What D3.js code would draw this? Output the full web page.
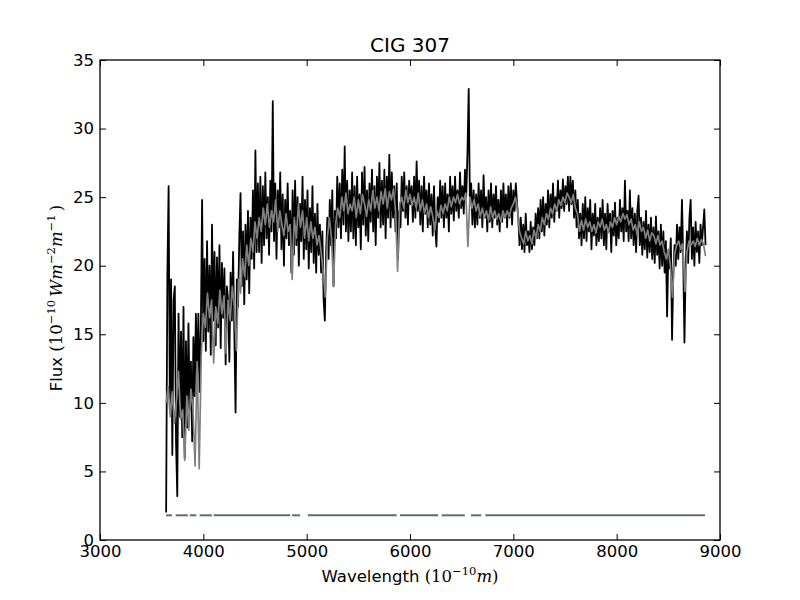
<!DOCTYPE html>
<html>
<head>
<meta charset="utf-8">
<script src="https://cdn.jsdelivr.net/npm/d3@7"></script>
<style>
  body { margin: 0; background: #fff; }
  svg { display: block; }
  .tick text { font-family: "DejaVu Sans", sans-serif; font-size: 16.5px; fill: #000; }
</style>
</head>
<body>
<svg id="chart" width="800" height="600"></svg>
<script>
// ---------- data ----------
const title = "CIG 307";
const xTicks = [3000, 4000, 5000, 6000, 7000, 8000, 9000];
const yTicks = [0, 5, 10, 15, 20, 25, 30, 35];

// observed spectrum (black), sampled every 12 Å starting at 3640 Å
const obsStart = 3640, obsStep = 12;
const observedFlux = [
  2.0,19.3,25.8,9.5,19.0,6.2,17.5,18.5,7.0,3.2,16.5,9.0,15.2,7.5,17.0,6.0,14.5,8.2,15.8,9.5,13.0,7.2,14.8,10.5,16.5,
  12.0,16.5,10.8,15.5,24.8,14.5,20.5,13.8,21.8,15.2,20.0,13.5,23.0,16.0,21.0,14.2,20.6,15.5,21.5,14.0,20.2,16.2,19.8,12.8,18.5,
  17.5,13.0,19.5,16.0,21.0,15.0,9.3,19.0,17.0,22.0,25.3,18.5,22.5,17.2,23.0,19.0,24.0,18.0,23.5,20.5,25.5,19.8,28.4,21.0,26.0,
  21.0,26.5,20.2,25.8,21.5,26.8,22.0,25.0,20.8,26.2,22.5,32.0,21.8,26.0,20.5,25.5,22.8,26.8,21.2,25.2,20.0,24.8,22.0,26.0,21.5,
  24.0,19.5,25.5,20.8,26.2,21.5,25.0,20.0,24.5,21.8,26.5,20.5,24.8,21.2,25.5,19.8,24.2,21.0,25.8,20.2,23.8,19.5,24.5,20.8,23.0,
  19.5,22.5,17.5,16.0,21.0,23.5,20.5,24.8,21.5,25.5,18.5,24.0,22.0,26.5,22.8,26.0,22.0,27.0,23.0,28.7,22.5,26.2,21.8,25.5,22.5,
  26.8,22.0,25.8,21.5,26.5,22.8,25.2,21.2,26.8,23.0,27.2,22.2,25.5,21.8,26.0,23.2,27.0,22.5,25.8,21.5,26.5,23.5,27.5,22.8,26.2,
  23.0,27.0,22.0,26.5,23.5,28.1,22.8,26.8,23.5,25.8,22.5,26.0,20.5,24.0,22.8,26.5,24.0,26.8,23.5,25.8,23.0,26.2,24.5,25.8,23.2,
  26.5,23.5,27.6,24.0,26.2,23.0,25.8,22.5,26.5,23.8,25.5,22.8,26.0,23.0,25.2,22.2,25.8,22.8,21.4,25.0,23.2,26.2,23.5,25.8,22.8,
  26.0,23.5,25.2,22.5,26.5,23.8,25.8,23.3,26.5,24.0,25.5,23.5,26.8,24.2,25.8,23.8,27.0,25.0,28.2,32.9,24.5,26.0,23.0,25.5,22.8,
  25.2,23.0,26.0,23.5,25.5,22.8,26.6,23.5,25.0,22.5,25.5,23.2,26.0,22.8,25.2,23.5,25.8,23.0,24.8,22.5,25.5,23.2,26.0,23.5,25.2,
  22.8,25.8,23.5,26.0,23.0,25.5,24.0,26.0,24.5,23.5,21.5,23.5,21.2,23.0,21.0,23.8,21.5,22.5,21.0,23.2,21.2,22.8,21.5,23.8,22.0,
  24.2,22.0,24.8,22.5,25.0,22.2,24.5,23.0,25.5,22.8,25.2,23.5,26.0,23.2,25.0,24.0,26.2,23.5,25.5,24.2,26.3,24.0,25.8,24.5,26.5,
  24.0,26.5,24.5,26.2,23.5,25.5,22.8,24.8,22.0,23.8,21.5,24.5,22.0,25.0,21.8,24.2,22.5,24.8,21.2,23.8,22.2,24.5,21.5,23.5,21.8,
  24.2,22.0,24.8,21.5,23.8,21.2,24.5,22.5,23.8,21.0,24.0,22.2,24.6,21.5,23.5,22.0,24.8,22.5,24.2,21.8,26.2,22.5,24.0,21.8,25.5,
  22.0,24.2,21.5,23.8,21.0,24.0,25.1,21.5,23.5,20.8,23.2,21.2,24.0,20.6,23.0,21.0,23.5,20.5,22.8,20.2,23.6,20.8,22.5,19.8,23.0,
  20.0,22.5,19.5,21.8,16.3,21.0,19.8,22.0,14.6,19.5,21.5,20.0,23.0,20.5,22.8,21.0,24.8,20.5,14.4,20.0,22.5,20.2,23.5,24.8,20.5,
  22.8,20.0,23.2,21.0,22.5,20.2,23.0,21.5,22.8,24.1,21.5
];

// model / smoothed spectrum (grey), sampled every 20 Å starting at 3640 Å
const modelStart = 3640, modelStep = 20;
const modelFlux = [
  10.0,11.2,9.0,10.8,8.5,10.2,12.3,8.8,9.5,5.8,10.5,8.0,11.0,9.5,5.4,
  13.0,5.2,13.5,16.5,15.5,18.0,16.2,17.5,12.9,17.0,15.8,18.2,16.5,17.8,13.6,
  17.5,16.0,18.5,17.0,13.8,19.0,18.0,20.5,19.2,21.5,20.0,22.0,21.0,23.2,22.0,
  23.5,22.5,24.2,23.0,24.5,22.8,24.0,23.2,24.8,22.5,24.0,23.0,22.2,23.8,22.5,
  23.0,19.0,23.5,22.0,24.5,22.8,24.0,22.0,23.5,21.8,23.2,22.0,22.8,21.5,22.2,
  21.0,19.5,17.7,22.0,23.5,22.0,18.5,23.0,24.2,23.5,25.0,24.0,25.3,23.8,24.5,
  24.0,25.0,23.5,24.8,23.8,25.2,24.5,23.6,24.8,24.0,25.5,24.2,25.0,24.0,25.4,
  24.5,25.6,24.2,25.4,24.8,25.6,24.0,19.6,24.5,25.0,24.2,25.5,24.6,25.2,24.4,
  25.0,24.2,25.3,24.0,24.8,23.8,24.5,23.5,24.3,23.6,22.6,24.0,23.5,24.4,23.8,
  24.5,24.0,25.0,24.3,25.0,24.6,25.2,24.5,25.0,24.8,25.3,21.4,25.0,24.2,24.8,
  24.0,24.5,23.6,24.2,23.5,24.0,23.3,24.3,23.5,24.0,23.4,23.8,23.2,24.0,23.5,
  24.0,23.6,24.2,24.5,25.0,24.2,22.5,22.0,21.6,22.5,21.8,22.2,21.6,22.6,22.0,
  23.0,22.5,23.5,23.0,23.8,23.4,24.2,23.8,24.5,24.0,24.8,24.4,25.0,24.6,25.3,
  25.0,24.6,25.2,24.2,23.8,22.5,23.3,22.6,23.4,22.8,23.2,22.5,23.0,22.4,23.2,
  22.8,23.4,22.6,23.0,22.4,23.2,22.8,23.5,23.0,23.6,23.2,23.8,23.4,23.7,23.0,
  23.4,22.6,23.0,22.2,23.2,22.5,22.8,22.0,22.6,21.8,22.4,22.2,21.6,22.2,21.5,
  21.8,21.0,20.5,21.2,20.0,17.7,20.8,21.5,21.8,21.2,21.6,18.1,21.0,21.8,21.5,
  21.8,21.4,22.0,21.5,21.9,21.6,20.7
];

// flag / mask segments (wavelength ranges) drawn at a constant level
const maskStart = [3639, 3732, 3868, 3964, 4100, 4859, 5012, 5903, 6308, 6590, 6730];
const maskEnd   = [3696, 3850, 3932, 4082, 4841, 4937, 5871, 6272, 6530, 6690, 8855];
const maskLevel = 1.8;

// ---------- layout ----------
const svg = d3.select("#chart");
const L = 100, T = 60, W = 620, H = 480;
const x = d3.scaleLinear().domain([3000, 9000]).range([L, L + W]);
const y = d3.scaleLinear().domain([0, 35]).range([T + H, T]);

const obs = observedFlux.map((f, i) => [obsStart + i * obsStep, f]);
const mod = modelFlux.map((f, i) => [modelStart + i * modelStep, f]);

const line = d3.line().x(d => x(d[0])).y(d => y(d[1]));

svg.append("clipPath").attr("id", "clip")
  .append("rect").attr("x", L).attr("y", T).attr("width", W).attr("height", H);

const plot = svg.append("g").attr("clip-path", "url(#clip)");

plot.append("path").datum(obs)
  .attr("d", line).attr("fill", "none")
  .attr("stroke", "#000").attr("stroke-width", 1.8).attr("stroke-linejoin", "round");

plot.append("path").datum(mod)
  .attr("d", line).attr("fill", "none")
  .attr("stroke", "#808080").attr("stroke-width", 1.7).attr("stroke-linejoin", "round");

plot.selectAll("line.mask").data(maskStart.map((s, i) => [s, maskEnd[i]]))
  .enter().append("line").attr("class", "mask")
  .attr("x1", d => x(d[0])).attr("x2", d => x(d[1]))
  .attr("y1", y(maskLevel)).attr("y2", y(maskLevel))
  .attr("stroke", "#5f6d73").attr("stroke-width", 2);

// ---------- axes ----------
const tickLen = 6;
function styleAxis(g) {
  g.select(".domain").remove();
  g.selectAll(".tick line").attr("stroke", "#000").attr("stroke-width", 1);
}
svg.append("g").attr("transform", `translate(0,${T + H})`)
  .call(d3.axisBottom(x).tickValues(xTicks).tickFormat(d3.format("d"))
        .tickSizeInner(-tickLen).tickSizeOuter(0).tickPadding(5))
  .call(styleAxis);
svg.append("g").attr("transform", `translate(0,${T})`)
  .call(d3.axisTop(x).tickValues(xTicks).tickFormat("")
        .tickSizeInner(-tickLen).tickSizeOuter(0))
  .call(styleAxis);
svg.append("g").attr("transform", `translate(${L},0)`)
  .call(d3.axisLeft(y).tickValues(yTicks).tickFormat(d3.format("d"))
        .tickSizeInner(-tickLen).tickSizeOuter(0).tickPadding(6))
  .call(styleAxis);
svg.append("g").attr("transform", `translate(${L + W},0)`)
  .call(d3.axisRight(y).tickValues(yTicks).tickFormat("")
        .tickSizeInner(-tickLen).tickSizeOuter(0))
  .call(styleAxis);

svg.append("rect").attr("x", L).attr("y", T).attr("width", W).attr("height", H)
  .attr("fill", "none").attr("stroke", "#000").attr("stroke-width", 1.3);

// ---------- texts ----------
svg.append("text").attr("x", L + W / 2).attr("y", 52)
  .attr("text-anchor", "middle")
  .style("font-family", "'DejaVu Sans', sans-serif").style("font-size", "20px")
  .text(title);

const SANS = "'DejaVu Sans', sans-serif";
const SERIF = "'DejaVu Serif', 'Liberation Serif', serif";

function mathLabel(sel, parts) {
  let up = false;
  parts.forEach(p => {
    const [t, font, ital, sup] = p;
    const ts = sel.append("tspan").text(t)
      .style("font-family", font)
      .style("font-style", ital ? "italic" : "normal")
      .style("font-size", sup ? "11.5px" : "16.5px");
    if (sup && !up) { ts.attr("dy", "-7"); up = true; }
    else if (!sup && up) { ts.attr("dy", "7"); up = false; }
  });
}

const xl = svg.append("text").attr("x", L + W / 2).attr("y", 582)
  .attr("text-anchor", "middle");
mathLabel(xl, [
  ["Wavelength ", SANS, false, false],
  ["(10", SERIF, false, false],
  ["\u221210", SERIF, false, true],
  ["m", SERIF, true, false],
  [")", SERIF, false, false]
]);

const yl = svg.append("text").attr("transform", "translate(62,298) rotate(-90)")
  .attr("text-anchor", "middle");
mathLabel(yl, [
  ["Flux ", SANS, false, false],
  ["(10", SERIF, false, false],
  ["\u221210", SERIF, false, true],
  ["\u2009Wm", SERIF, true, false],
  ["\u22122", SERIF, false, true],
  ["m", SERIF, true, false],
  ["\u22121", SERIF, false, true],
  ["\u2009)", SERIF, false, false]
]);
</script>
</body>
</html>
